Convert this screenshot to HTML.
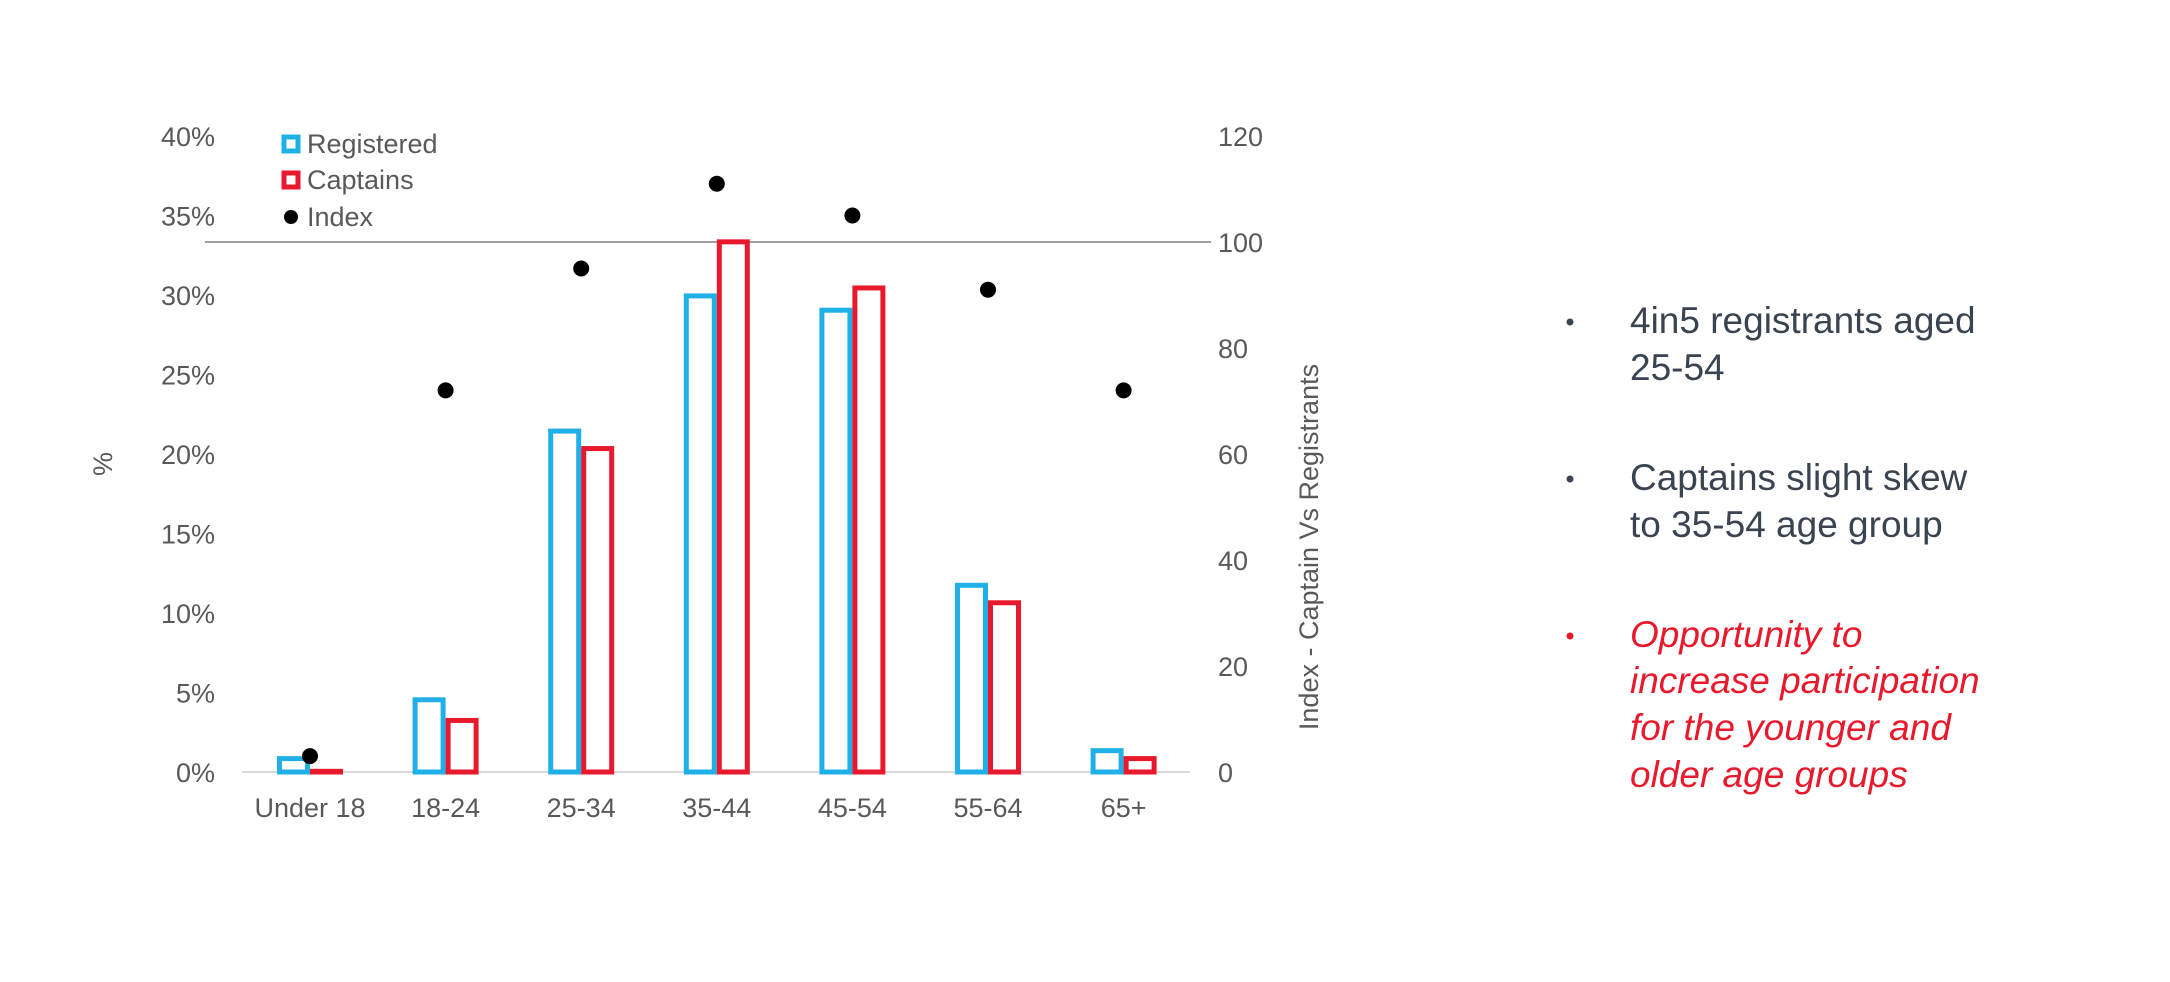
<!DOCTYPE html>
<html><head><meta charset="utf-8"><style>
html,body{margin:0;padding:0;background:#fff;}
svg{display:block;font-family:"Liberation Sans",sans-serif;}
</style></head><body>
<svg id="chart" width="2170" height="982" viewBox="0 0 2170 982">
<g id="axes"></g>
<g id="marks"></g>
<g id="legend">
  <rect x="284" y="137" width="14" height="14" fill="#fff" stroke="#1fb0e8" stroke-width="5"/>
  <text x="307" y="153" font-size="27" fill="#595959">Registered</text>
  <rect x="284" y="173" width="14" height="14" fill="#fff" stroke="#e8192c" stroke-width="5"/>
  <text x="307" y="189" font-size="27" fill="#595959">Captains</text>
  <circle cx="291" cy="217" r="7" fill="#000"/>
  <text x="307" y="226" font-size="27" fill="#595959">Index</text>
</g>
<text transform="translate(112,464) rotate(-90)" text-anchor="middle" font-size="27" fill="#595959">%</text>
<text transform="translate(1318,547) rotate(-90)" text-anchor="middle" font-size="27" fill="#595959">Index - Captain Vs Registrants</text>
<g font-size="37">
  <circle cx="1570" cy="322" r="3.5" fill="#3a4350"/>
  <text x="1630" y="333" fill="#3a4350">4in5 registrants aged</text>
  <text x="1630" y="380" fill="#3a4350">25-54</text>
  <circle cx="1570" cy="479" r="3.5" fill="#3a4350"/>
  <text x="1630" y="490" fill="#3a4350">Captains slight skew</text>
  <text x="1630" y="537" fill="#3a4350">to 35-54 age group</text>
  <circle cx="1570" cy="636" r="3.5" fill="#e8192c"/>
  <g fill="#e8192c" font-style="italic">
    <text x="1630" y="647">Opportunity to</text>
    <text x="1630" y="693">increase participation</text>
    <text x="1630" y="740">for the younger and</text>
    <text x="1630" y="787">older age groups</text>
  </g>
</g>
</svg>
<script>
const categories = ["Under 18","18-24","25-34","35-44","45-54","55-64","65+"];
const registered = [1.0, 4.7, 21.6, 30.1, 29.2, 11.9, 1.5];
const captains = [0.2, 3.4, 20.5, 33.5, 30.6, 10.8, 1.0];
const indexValues = [3, 72, 95, 111, 105, 91, 72];
const leftTicks = [0,5,10,15,20,25,30,35,40];
const rightTicks = [0,20,40,60,80,100,120];
const refValue = 100;

const NS = "http://www.w3.org/2000/svg";
const Y0 = 772, YTOP = 136;
const yL = v => Y0 - (v/40)*(Y0-YTOP);
const yR = v => Y0 - (v/120)*(Y0-YTOP);
const xC = i => 310 + i*135.6;
const BW = 33;
function mk(tag, attrs, parent){const e=document.createElementNS(NS,tag);for(const k in attrs)e.setAttribute(k,attrs[k]);parent.appendChild(e);return e;}
const axes=document.getElementById('axes'), marks=document.getElementById('marks');

leftTicks.forEach(t=>{
  const e=mk('text',{x:215,y:yL(t)+10,'text-anchor':'end','font-size':27,fill:'#595959'},axes);
  
  
  e.textContent=t+'%';
});
rightTicks.forEach(t=>{
  const e=mk('text',{x:1218,y:yR(t)+10,'font-size':27,fill:'#595959'},axes);
  
  
  e.textContent=t;
});
categories.forEach((c,i)=>{
  const e=mk('text',{x:xC(i),y:Y0+45,'text-anchor':'middle','font-size':27,fill:'#595959'},axes);
  
  
  e.textContent=c;
});
const base=mk('line',{x1:242,x2:1190,y1:Y0,y2:Y0,stroke:'#d9d9d9','stroke-width':2},axes);


const ref=mk('line',{x1:205,x2:1211,y1:yR(refValue),y2:yR(refValue),stroke:'#a0a0a0','stroke-width':2},axes);



categories.forEach((c,i)=>{
  const hb=Y0-yL(registered[i]);
  const b=mk('rect',{x:xC(i)-BW+2.5,y:yL(registered[i])+2.5,width:BW-5,height:Math.max(hb-2.5,0.5),fill:'#fff',stroke:'#1fb0e8','stroke-width':5},marks);
  
  
  const hc=Y0-yL(captains[i]);
  const r=mk('rect',{x:xC(i)+2.5,y:yL(captains[i])+2.5,width:BW-5,height:Math.max(hc-2.5,0.5),fill:'#fff',stroke:'#e8192c','stroke-width':5},marks);
  
  
  const p=mk('circle',{cx:xC(i),cy:yR(indexValues[i]),r:8,fill:'#000'},marks);
  
  
});
</script>
</body></html>
